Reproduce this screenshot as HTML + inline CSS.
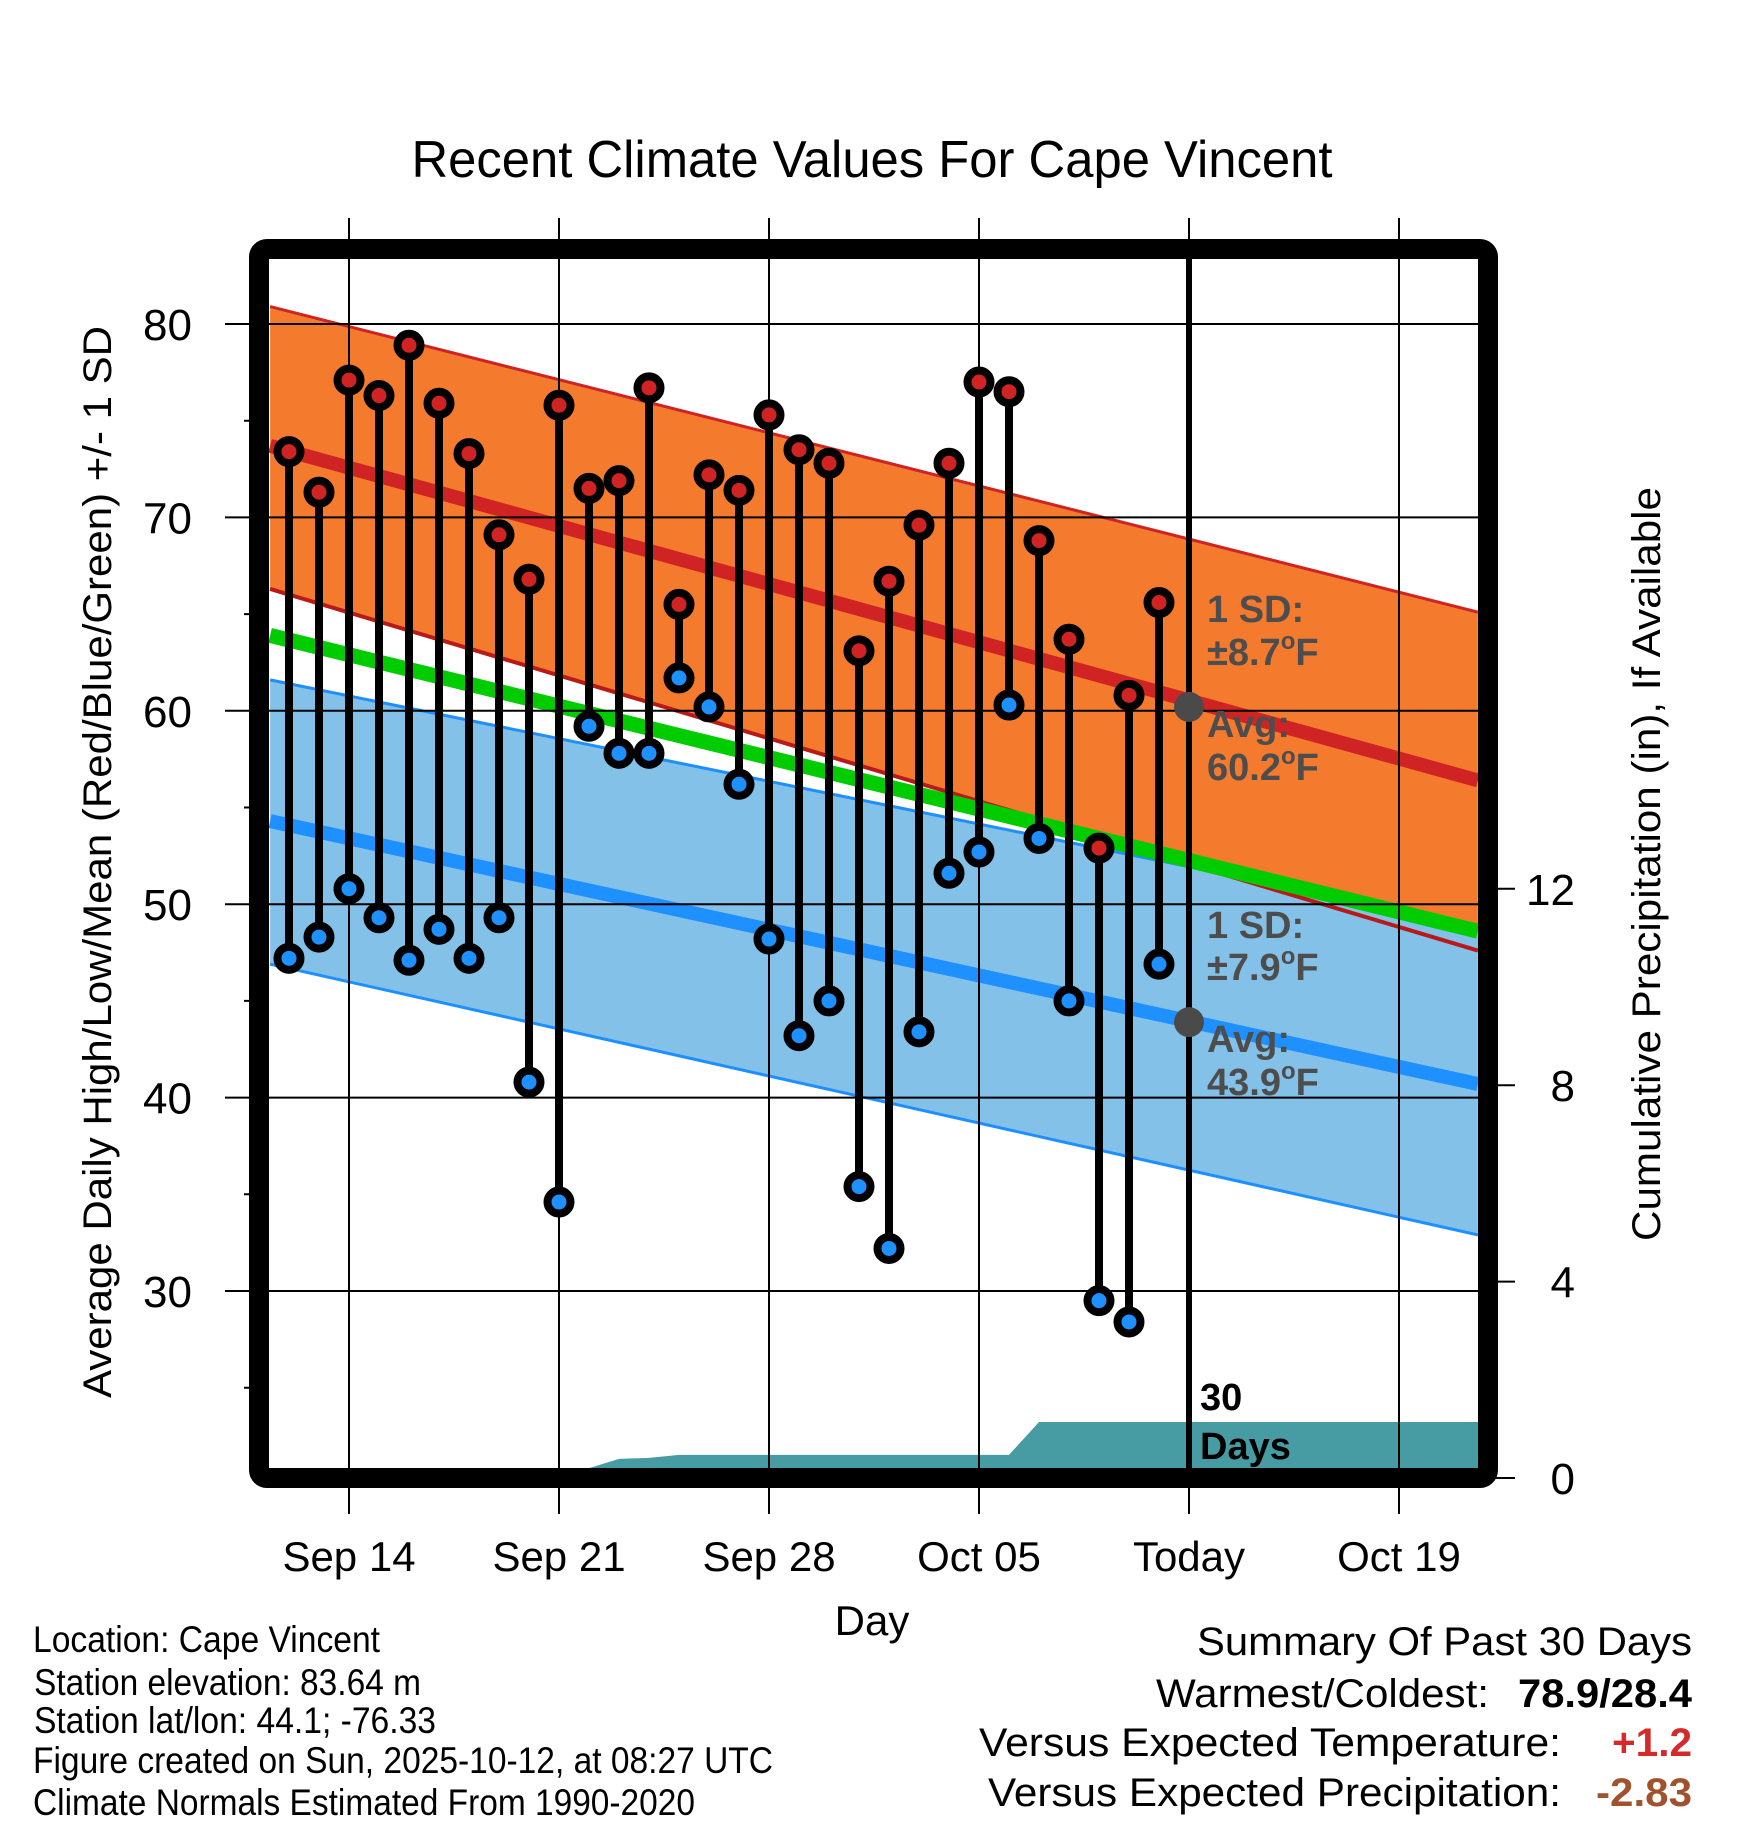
<!DOCTYPE html>
<html><head><meta charset="utf-8"><style>
html,body{margin:0;padding:0;background:#fff}
svg{display:block;font-family:"Liberation Sans",Arial,sans-serif}
</style></head><body>
<svg id="chart" width="1748" height="1828" viewBox="0 0 1748 1828" xmlns="http://www.w3.org/2000/svg">
<text x="872" y="177" font-size="52" text-anchor="middle" textLength="921" lengthAdjust="spacingAndGlyphs">Recent Climate Values For Cape Vincent</text>
<g id="fills"></g>
<g id="grid"></g>
<g id="marks"></g>
<g id="annot" font-weight="bold" fill="#4d4d4d" font-size="38">
 <text x="1207" y="622">1 SD:</text>
 <text x="1207" y="665">±8.7<tspan font-size="24" dy="-16">o</tspan><tspan dy="16">F</tspan></text>
 <text x="1207" y="737">Avg:</text>
 <text x="1207" y="780">60.2<tspan font-size="24" dy="-16">o</tspan><tspan dy="16">F</tspan></text>
 <text x="1207" y="938">1 SD:</text>
 <text x="1207" y="980">±7.9<tspan font-size="24" dy="-16">o</tspan><tspan dy="16">F</tspan></text>
 <text x="1207" y="1052">Avg:</text>
 <text x="1207" y="1095">43.9<tspan font-size="24" dy="-16">o</tspan><tspan dy="16">F</tspan></text>
 <text x="1200" y="1410" fill="#000">30</text>
 <text x="1200" y="1459" fill="#000">Days</text>
</g>
<rect x="259" y="249" width="1229" height="1229" rx="8" fill="none" stroke="#000" stroke-width="20"/>
<g id="axes" font-size="44"></g>
<text transform="translate(111,862) rotate(-90)" font-size="40" text-anchor="middle" textLength="1072" lengthAdjust="spacingAndGlyphs">Average Daily High/Low/Mean (Red/Blue/Green) +/- 1 SD</text>
<text transform="translate(1660,864) rotate(-90)" font-size="40" text-anchor="middle" textLength="754" lengthAdjust="spacingAndGlyphs">Cumulative Precipitation (in), If Available</text>
<text x="872" y="1635" font-size="42" text-anchor="middle">Day</text>
<g font-size="37">
 <text x="33" y="1652" textLength="347" lengthAdjust="spacingAndGlyphs">Location: Cape Vincent</text>
 <text x="34" y="1695" textLength="387" lengthAdjust="spacingAndGlyphs">Station elevation: 83.64 m</text>
 <text x="34" y="1733" textLength="402" lengthAdjust="spacingAndGlyphs">Station lat/lon: 44.1; -76.33</text>
 <text x="33" y="1773" textLength="740" lengthAdjust="spacingAndGlyphs">Figure created on Sun, 2025-10-12, at 08:27 UTC</text>
 <text x="33" y="1815" textLength="662" lengthAdjust="spacingAndGlyphs">Climate Normals Estimated From 1990-2020</text>
</g>
<g font-size="40">
 <text x="1692" y="1655" text-anchor="end" textLength="495" lengthAdjust="spacingAndGlyphs">Summary Of Past 30 Days</text>
 <text x="1489" y="1707" text-anchor="end" textLength="333" lengthAdjust="spacingAndGlyphs">Warmest/Coldest:</text>
 <text x="1692" y="1707" text-anchor="end" font-weight="bold" textLength="174" lengthAdjust="spacingAndGlyphs">78.9/28.4</text>
 <text x="1561" y="1756" text-anchor="end" textLength="582" lengthAdjust="spacingAndGlyphs">Versus Expected Temperature:</text>
 <text x="1692" y="1756" text-anchor="end" font-weight="bold" fill="#d42a2a" textLength="80" lengthAdjust="spacingAndGlyphs">+1.2</text>
 <text x="1561" y="1806" text-anchor="end" textLength="573" lengthAdjust="spacingAndGlyphs">Versus Expected Precipitation:</text>
 <text x="1692" y="1806" text-anchor="end" font-weight="bold" fill="#a0522d" textLength="96" lengthAdjust="spacingAndGlyphs">-2.83</text>
</g>
</svg>
<script>
// day index 0 = Sep 12
const highs = [73.4,71.3,77.1,76.3,78.9,75.9,73.3,69.1,66.8,75.8,71.5,71.9,76.7,65.5,72.2,71.4,75.3,73.5,72.8,63.1,66.7,69.6,72.8,77.0,76.5,68.8,63.7,52.9,60.8,65.6];
const lows = [47.2,48.3,50.8,49.3,47.1,48.7,47.2,49.3,40.8,34.6,59.2,57.8,57.8,61.7,60.2,56.2,48.2,43.2,45.0,35.4,32.2,43.4,51.6,52.7,60.3,53.4,45.0,29.5,28.4,46.9];
const precip = [0,0,0,0,0,0,0,0,0,0,0.2,0.39,0.41,0.47,0.47,0.47,0.47,0.47,0.47,0.47,0.47,0.47,0.47,0.47,0.47,1.14,1.14,1.14,1.14,1.14,1.14];
const normalDays = [-0.63, 39.63];
const highMean = [73.7, 56.4];
const highUpper = [80.9, 65.1];
const highLower = [66.3, 47.6];
const lowMean = [54.3, 40.7];
const lowUpper = [61.6, 48.9];
const lowLower = [46.9, 32.9];
const avgMean = [63.9, 48.6];
const xTickDays = [2, 9, 16, 23, 30, 37];
const xTickLabels = ["Sep 14","Sep 21","Sep 28","Oct 05","Today","Oct 19"];
const yTicks = [30,40,50,60,70,80];
const yMinor = [25,35,45,55,65,75];
const pTicks = [0,4,8,12];
const todayDay = 30;
const todayHigh = 60.2, todayLow = 43.9;

const NS = "http://www.w3.org/2000/svg";
const X = d => 289 + d * 30;
const Y = t => 324 + (80 - t) * 19.34;
const P = p => 1478 - p * 49.1;
const L = 269, R = 1478, T = 259, B = 1468;
function mk(tag, attrs, parent){
  const e = document.createElementNS(NS, tag);
  for (const k in attrs) e.setAttribute(k, attrs[k]);
  parent.appendChild(e); return e;
}
const fills = document.getElementById('fills');
const grid = document.getElementById('grid');
const marks = document.getElementById('marks');
const axes = document.getElementById('axes');
function band(up, lo, fill, name){
  const pts = `${X(normalDays[0])},${Y(up[0])} ${X(normalDays[1])},${Y(up[1])} ${X(normalDays[1])},${Y(lo[1])} ${X(normalDays[0])},${Y(lo[0])}`;
  const e = mk('polygon', {points: pts, fill: fill}, fills);
  
  
}
function line(vals, color, w, name, parent){
  const e = mk('line', {x1: X(normalDays[0]), y1: Y(vals[0]), x2: X(normalDays[1]), y2: Y(vals[1]), stroke: color, 'stroke-width': w}, parent || fills);
  
  
}
const defs = mk('defs', {}, document.getElementById('chart'));
const cp = mk('clipPath', {id: 'plotclip'}, defs);
mk('rect', {x: L, y: T, width: R - L, height: B - T}, cp);
fills.setAttribute('clip-path', 'url(#plotclip)');

band(highUpper, highLower, '#f47a2e', 'high-sd-band');
band(lowUpper, lowLower, '#84c1e8', 'low-sd-band');
line(highUpper, '#d02424', 3, 'high-upper-edge');
line(highLower, '#b81a1a', 4, 'high-lower-edge');
line(lowUpper, '#1e8fff', 3, 'low-upper-edge');
line(lowLower, '#1e8fff', 3, 'low-lower-edge');
line(avgMean, '#00cc00', 15, 'mean-normal-line');
line(highMean, '#d02424', 14, 'high-normal-line');
line(lowMean, '#1e90ff', 14, 'low-normal-line');

let pp = `${X(0)},${P(0)} `;
precip.forEach((v, i) => { pp += `${X(i)},${P(v)} `; });
pp += `${R},${P(precip[precip.length-1])} ${R},${P(0)}`;
const pa = mk('polygon', {points: pp, fill: '#479ba3'}, fills);



yTicks.forEach(t => {
  const g = mk('line', {x1: 225, x2: R, y1: Y(t), y2: Y(t), stroke: '#000', 'stroke-width': 2}, grid);
  
  
  const lb = mk('text', {x: 192, y: Y(t) + 16, 'text-anchor': 'end'}, axes);
  lb.textContent = t;
  
  
});
yMinor.forEach(t => {
  const g = mk('line', {x1: 244, x2: 262, y1: Y(t), y2: Y(t), stroke: '#000', 'stroke-width': 2}, grid);
  
  
});
xTickDays.forEach((d, i) => {
  const g = mk('line', {x1: X(d), x2: X(d), y1: 218, y2: 1514, stroke: '#000', 'stroke-width': 2}, grid);
  
  
  const lb = mk('text', {x: X(d), y: 1571, 'text-anchor': 'middle', 'font-size': 42}, axes);
  lb.textContent = xTickLabels[i];
  
  
});
const tl = mk('line', {x1: X(todayDay), x2: X(todayDay), y1: T, y2: B, stroke: '#000', 'stroke-width': 6}, marks);


pTicks.forEach(p => {
  const g = mk('line', {x1: R, x2: 1515, y1: P(p), y2: P(p), stroke: '#000', 'stroke-width': 2}, grid);
  
  
  const lb = mk('text', {x: 1575, y: P(p) + 16, 'text-anchor': 'end'}, axes);
  lb.textContent = p;
  
  
});

highs.forEach((h, i) => {
  const s = mk('line', {x1: X(i), x2: X(i), y1: Y(h), y2: Y(lows[i]), stroke: '#000', 'stroke-width': 8}, marks);
  
  
});
highs.forEach((h, i) => {
  const c1 = mk('circle', {cx: X(i), cy: Y(h), r: 11.5, fill: '#d02424', stroke: '#000', 'stroke-width': 8}, marks);
  
  
  const c2 = mk('circle', {cx: X(i), cy: Y(lows[i]), r: 11.5, fill: '#1e90ff', stroke: '#000', 'stroke-width': 8}, marks);
  
  
});
const d1 = mk('circle', {cx: X(todayDay), cy: Y(todayHigh), r: 15, fill: '#4a4a4a'}, marks);


const d2 = mk('circle', {cx: X(todayDay), cy: Y(todayLow), r: 15, fill: '#4a4a4a'}, marks);


</script>
</body></html>
